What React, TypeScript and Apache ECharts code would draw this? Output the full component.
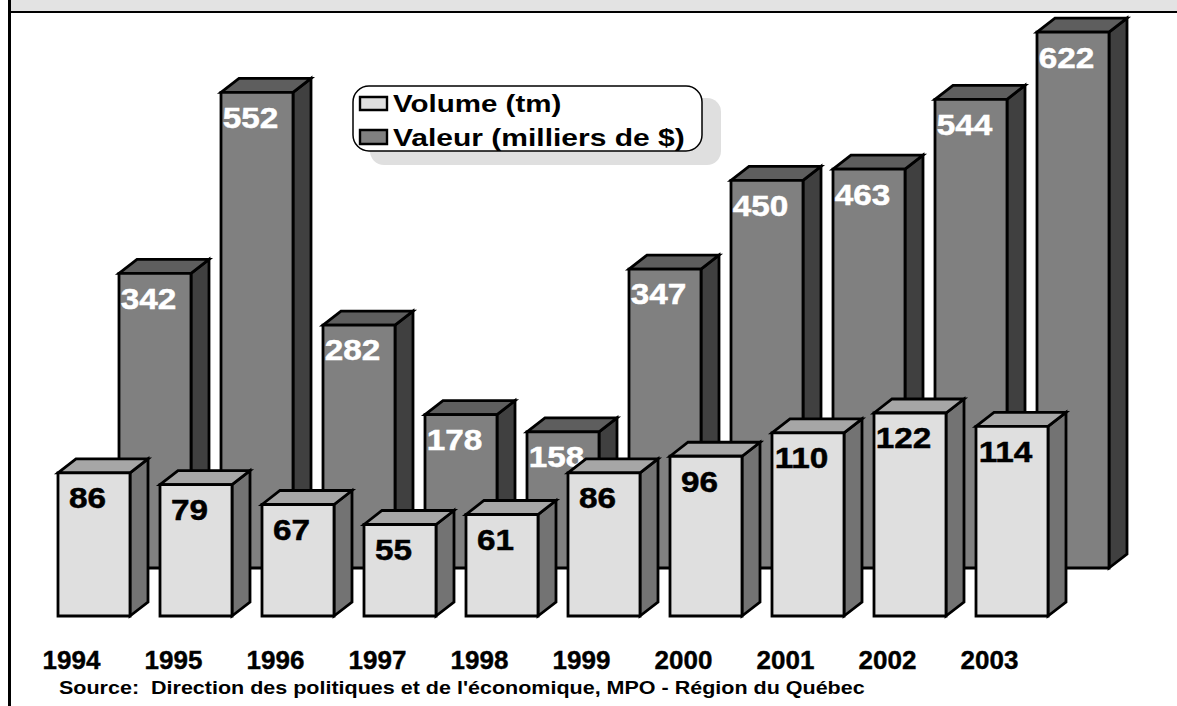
import React, { useEffect, useRef } from "react";
import * as echarts from "echarts";

const years = ["1994", "1995", "1996", "1997", "1998", "1999", "2000", "2001", "2002", "2003"];
const volume = [86, 79, 67, 55, 61, 86, 96, 110, 122, 114];
const valeur = [342, 552, 282, 178, 158, 347, 450, 463, 544, 622];
const volumeName = "Volume (tm)";
const valeurName = "Valeur (milliers de $)";
const sourceText = "Source:  Direction des politiques et de l'économique, MPO - Région du Québec";

const FONT = "'Liberation Sans', Arial, sans-serif";
const DX = 18;
const DY = 14;
const BAR_W = 72;

type Palette = { face: string; top: string; side: string; text: string };
const volumeColors: Palette = { face: "#dfdfdf", top: "#a6a6a6", side: "#737373", text: "#000000" };
const valeurColors: Palette = { face: "#808080", top: "#5e5e5e", side: "#404040", text: "#ffffff" };

function bar3d(colors: Palette) {
  return (_params: any, api: any) => {
    const i = api.value(0);
    const v = api.value(1);
    const t = api.coord([i, v]);
    const b = api.coord([i, 0]);
    const l = t[0] - BAR_W / 2;
    const r = t[0] + BAR_W / 2;
    const line = { stroke: "#000", lineWidth: 2.8, lineJoin: "miter" };
    return {
      type: "group",
      children: [
        {
          type: "polygon",
          shape: { points: [[r, t[1]], [r + DX, t[1] - DY], [r + DX, b[1] - DY], [r, b[1]]] },
          style: { fill: colors.side, ...line },
        },
        {
          type: "polygon",
          shape: { points: [[l, t[1]], [l + DX, t[1] - DY], [r + DX, t[1] - DY], [r, t[1]]] },
          style: { fill: colors.top, ...line },
        },
        {
          type: "rect",
          shape: { x: l, y: t[1], width: BAR_W, height: b[1] - t[1] },
          style: { fill: colors.face, ...line },
        },
        {
          type: "text",
          x: t[0] - 6.5,
          y: t[1] + 25,
          scaleX: 1.11,
          style: {
            text: String(v),
            x: 0,
            y: 0,
            align: "center",
            verticalAlign: "middle",
            fontFamily: FONT,
            fontWeight: "bold",
            fontSize: 30,
            fill: colors.text,
            stroke: colors.text,
            lineWidth: 0.5,
          },
        },
      ],
    };
  };
}

function legendText(text: string, y: number, scale: number) {
  return {
    type: "text",
    x: 393,
    y,
    scaleX: scale,
    z: 21,
    style: {
      text,
      x: 0,
      y: 0,
      align: "left",
      verticalAlign: "middle",
      fontFamily: FONT,
      fontWeight: "bold",
      fontSize: 24,
      fill: "#000",
    },
  };
}

export default function App() {
  const ref = useRef<HTMLDivElement>(null);
  useEffect(() => {
    document.body.style.margin = "0";
    const chart = echarts.init(ref.current!, undefined, { renderer: "svg" });
    chart.setOption({
      animation: false,
      backgroundColor: "#ffffff",
      grid: [
        { left: 43, width: 1020, top: 17, bottom: 90 },
        { left: 104, width: 1020, top: 8, bottom: 138 },
      ],
      xAxis: [
        {
          type: "category",
          gridIndex: 0,
          data: years,
          axisLine: { show: false },
          axisTick: { show: false },
          axisLabel: {
            interval: 0,
            margin: 31,
            padding: [0, 45, 0, 0],
            fontFamily: FONT,
            fontWeight: "bold",
            fontSize: 26,
            color: "#000",
            textBorderColor: "#000",
            textBorderWidth: 0.4,
          },
        },
        { type: "category", gridIndex: 1, data: years, show: false },
      ],
      yAxis: [
        { type: "value", gridIndex: 0, min: 0, max: 360, show: false },
        { type: "value", gridIndex: 1, min: 0, max: 650, show: false },
      ],
      series: [
        {
          name: valeurName,
          type: "custom",
          xAxisIndex: 1,
          yAxisIndex: 1,
          z: 2,
          clip: false,
          renderItem: bar3d(valeurColors),
          data: valeur.map((v, i) => [i, v]),
        },
        {
          name: volumeName,
          type: "custom",
          xAxisIndex: 0,
          yAxisIndex: 0,
          z: 3,
          clip: false,
          renderItem: bar3d(volumeColors),
          data: volume.map((v, i) => [i, v]),
        },
      ],
      graphic: [
        { type: "rect", z: 1, shape: { x: 11, y: 0, width: 1166, height: 12 }, style: { fill: "#e3e3e3" } },
        { type: "rect", z: 1, shape: { x: 8, y: 11, width: 1169, height: 2 }, style: { fill: "#000" } },
        { type: "rect", z: 1, shape: { x: 8, y: 0, width: 3, height: 706 }, style: { fill: "#000" } },
        {
          type: "rect",
          z: 19,
          shape: { x: 370, y: 98, width: 351, height: 67, r: 14 },
          style: { fill: "#dfdfdf" },
        },
        {
          type: "rect",
          z: 20,
          shape: { x: 353, y: 86, width: 349, height: 65, r: 16 },
          style: { fill: "#fff", stroke: "#000", lineWidth: 1.5 },
        },
        {
          type: "rect",
          z: 21,
          shape: { x: 360, y: 97, width: 27, height: 13 },
          style: { fill: volumeColors.face, stroke: "#000", lineWidth: 2.4 },
        },
        {
          type: "rect",
          z: 21,
          shape: { x: 360, y: 130, width: 27, height: 14 },
          style: { fill: valeurColors.face, stroke: "#000", lineWidth: 2.4 },
        },
        legendText(volumeName, 104, 1.23),
        legendText(valeurName, 138, 1.25),
        {
          type: "text",
          x: 59,
          y: 688,
          scaleX: 1.195,
          z: 21,
          style: {
            text: sourceText,
            x: 0,
            y: 0,
            align: "left",
            verticalAlign: "middle",
            fontFamily: FONT,
            fontWeight: "bold",
            fontSize: 18,
            fill: "#000",
          },
        },
      ],
    });
    return () => chart.dispose();
  }, []);
  return <div ref={ref} style={{ width: 1177, height: 706 }} />;
}
